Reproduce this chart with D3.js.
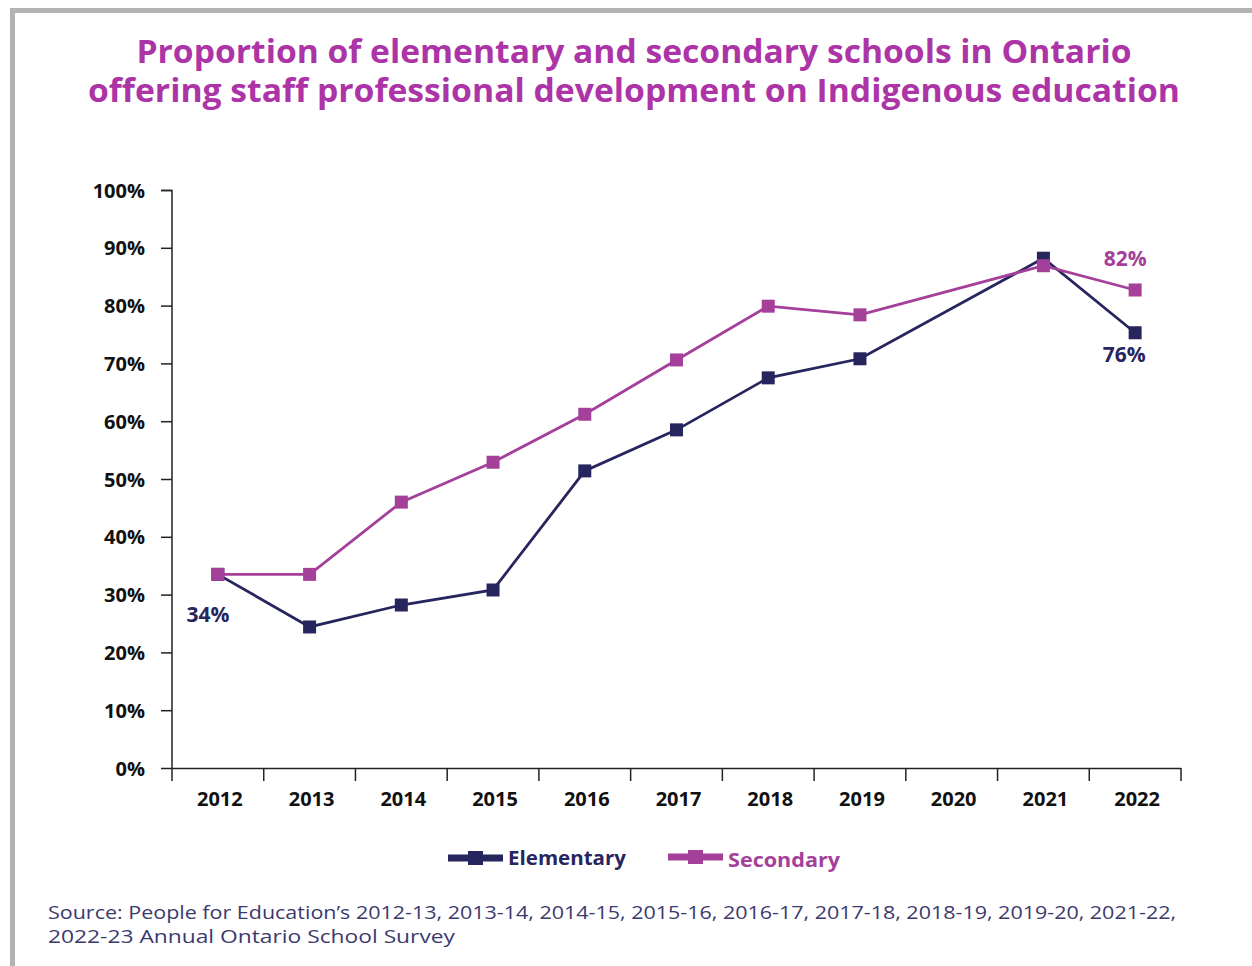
<!DOCTYPE html>
<html><head><meta charset="utf-8">
<script src="https://cdn.jsdelivr.net/npm/d3@7"></script>
<style>
html,body{margin:0;padding:0;background:#fff;}
svg{display:block;}
</style></head>
<body>
<svg id="chart" width="1252" height="966"></svg>
<script>
const years = ["2012","2013","2014","2015","2016","2017","2018","2019","2020","2021","2022"];
const elementary = [33.5, 24.4, 28.2, 30.8, 51.4, 58.5, 67.5, 70.8, null, 88.2, 75.3];
const secondary = [33.5, 33.5, 46.0, 52.9, 61.2, 70.6, 79.9, 78.4, null, 86.9, 82.7];
const yTicks = [0,10,20,30,40,50,60,70,80,90,100];
const titleLines = ["Proportion of elementary and secondary schools in Ontario","offering staff professional development on Indigenous education"];
const sourceLines = ["Source: People for Education\u2019s 2012-13, 2013-14, 2014-15, 2015-16, 2016-17, 2017-18, 2018-19, 2019-20, 2021-22,","2022-23 Annual Ontario School Survey"];

const navy = "#27255e", purple = "#a43f9a", titleCol = "#ad34a6";
const svg = d3.select("#chart");
const font = "'Open Sans','Lato',sans-serif";

// frame
svg.append("path").attr("d","M12.5,966 L12.5,10.5 L1252,10.5").attr("fill","none").attr("stroke","#b3b3b3").attr("stroke-width",5);

// title
const titleLen = [995, 1092];
svg.append("g").selectAll("text").data(titleLines).join("text")
  .attr("x",634).attr("y",(d,i)=>63+i*39).attr("text-anchor","middle")
  .attr("textLength",(d,i)=>titleLen[i]).attr("lengthAdjust","spacingAndGlyphs")
  .attr("font-family",font).attr("font-weight",700).attr("font-size",32).attr("fill",titleCol).text(d=>d);

const x = d3.scaleBand().domain(years).range([172,1181]).paddingInner(0).paddingOuter(0);
const y = d3.scaleLinear().domain([0,100]).range([768,190]);

// y axis
const ya = svg.append("g").attr("transform","translate(172,0)")
  .call(d3.axisLeft(y).tickValues(yTicks).tickFormat(d=>d+"%").tickSize(11).tickPadding(16));
ya.select(".domain").attr("stroke","#222").attr("stroke-width",1.5).attr("d","M-11,190.5H0V768.5");
ya.selectAll(".tick line").attr("stroke","#222").attr("stroke-width",1.5);
ya.selectAll("text").attr("font-family",font).attr("font-weight",700).attr("font-size",20).attr("fill","#111").attr("dy","0.35em");

// x axis
const xa = svg.append("g").attr("transform","translate(0,768)");
xa.append("line").attr("x1",172).attr("x2",1181).attr("y1",0.5).attr("y2",0.5).attr("stroke","#222").attr("stroke-width",1.5);
const bounds = years.map(d=>x(d)).concat([x(years[years.length-1])+x.bandwidth()]);
xa.selectAll("line.tk").data(bounds).join("line").attr("class","tk")
  .attr("x1",d=>d).attr("x2",d=>d).attr("y1",0).attr("y2",13).attr("stroke","#222").attr("stroke-width",1.5);
xa.selectAll("text").data(years).join("text")
  .attr("x",d=>x(d)+x.bandwidth()/2+2).attr("y",38).attr("text-anchor","middle")
  .attr("font-family",font).attr("font-weight",700).attr("font-size",20).attr("fill","#111").text(d=>d);

const cx = d=>x(d)+x.bandwidth()/2;
function series(vals,col){
  const pts = years.map((yr,i)=>({yr,v:vals[i]})).filter(p=>p.v!=null);
  const line = d3.line().x(p=>cx(p.yr)).y(p=>y(p.v));
  svg.append("path").datum(pts).attr("d",line).attr("fill","none").attr("stroke",col).attr("stroke-width",2.8);
  svg.append("g").selectAll("rect").data(pts).join("rect")
    .attr("x",p=>cx(p.yr)-6.5).attr("y",p=>y(p.v)-6.5).attr("width",13).attr("height",13).attr("fill",col);
}
series(elementary,navy);
series(secondary,purple);

// data labels
const lab = (t,xp,yp,col)=>svg.append("text").attr("x",xp).attr("y",yp).attr("text-anchor","middle")
  .attr("font-family",font).attr("font-weight",700).attr("font-size",21).attr("fill",col).text(t);
lab(Math.round(elementary[0])+"%", cx("2012")-10, 622, navy);
lab("82%", cx("2022")-10, 266, purple);
lab(Math.round(elementary[10]+0.5)+"%", cx("2022")-11, 362, navy);

// legend
const leg = [{n:"Elementary",c:navy,x:448,y:858},{n:"Secondary",c:purple,x:668,y:857}];
leg.forEach(l=>{
  svg.append("line").attr("x1",l.x).attr("x2",l.x+55).attr("y1",l.y).attr("y2",l.y).attr("stroke",l.c).attr("stroke-width",7);
  svg.append("rect").attr("x",l.x+20).attr("y",l.y-7).attr("width",15).attr("height",14).attr("fill",l.c);
  svg.append("text").attr("x",l.x+60).attr("y",l.y+7+(l.n==="Secondary"?3:0)).attr("font-family",font).attr("font-weight",700)
    .attr("textLength",l.n==="Secondary"?112:118).attr("lengthAdjust","spacingAndGlyphs")
    .attr("font-size",20).attr("fill",l.c).text(l.n);
});

// source
const srcLen = [1128, 407];
svg.append("g").selectAll("text").data(sourceLines).join("text")
  .attr("x",48).attr("y",(d,i)=>919+i*24).attr("font-family",font).attr("font-size",19)
  .attr("textLength",(d,i)=>srcLen[i]).attr("lengthAdjust","spacingAndGlyphs")
  .attr("fill","#3b3a6e").text(d=>d);
</script>
</body></html>
